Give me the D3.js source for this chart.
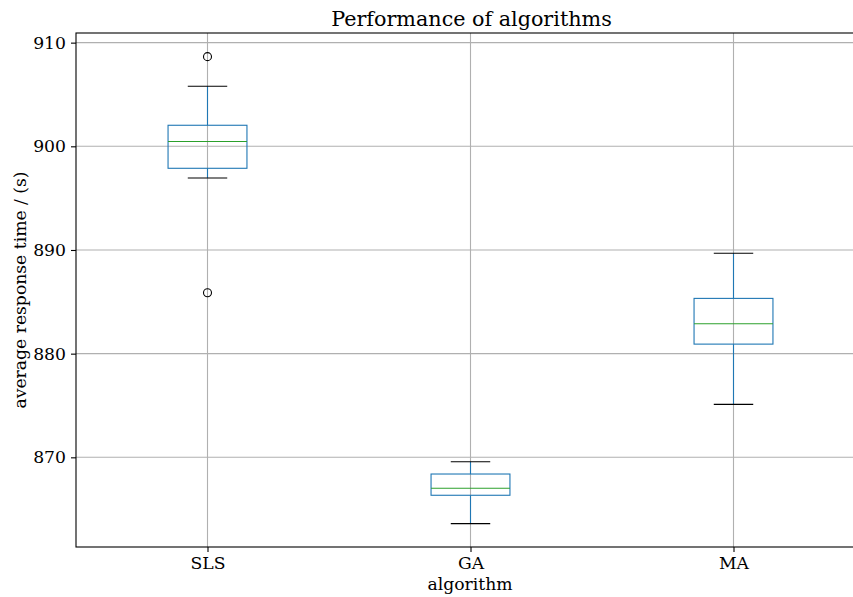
<!DOCTYPE html>
<html lang="en">
<head>
  <meta charset="UTF-8">
  <title>Performance of algorithms</title>
  <script src="https://d3js.org/d3.v7.min.js"></script>
  <style>
    html, body { margin: 0; padding: 0; background: #fff; }
    svg { display: block; font-family: "DejaVu Serif", serif; }
  </style>
</head>
<body>
  <svg width="853" height="597"></svg>
  <script>
    // categories and box statistics
    const algorithms = ["SLS", "GA", "MA"];
    const whiskerLow = [896.95, 863.6, 875.11];
    const q1 = [897.88, 866.34, 880.92];
    const medians = [900.46, 867.01, 882.88];
    const q3 = [902.03, 868.39, 885.33];
    const whiskerHigh = [905.79, 869.58, 889.69];
    const outliers = [[908.65, 885.87], [], []];
    const yTicks = [870, 880, 890, 900, 910];

    const margin = { top: 33, left: 76 };
    const plotW = 789, plotH = 514;

    const svg = d3.select("svg");
    const g = svg.append("g")
      .attr("transform", "translate(" + margin.left + "," + margin.top + ")");

    const x = d3.scaleLinear().domain([0.5, 3.5]).range([0, plotW]);
    const y = d3.scaleLinear().domain([861.35, 910.93]).range([plotH, 0]);

    // grid
    g.append("g").selectAll("line").data(yTicks).enter().append("line")
      .attr("x1", 0).attr("x2", plotW)
      .attr("y1", d => y(d)).attr("y2", d => y(d))
      .attr("stroke", "#b0b0b0").attr("stroke-width", 1.1);
    g.append("g").selectAll("line").data(algorithms).enter().append("line")
      .attr("x1", (d, i) => x(i + 1)).attr("x2", (d, i) => x(i + 1))
      .attr("y1", 0).attr("y2", plotH)
      .attr("stroke", "#b0b0b0").attr("stroke-width", 1.1);

    const boxW = x(1.3) - x(1);
    const capW = boxW / 2;

    const boxes = g.selectAll(".box").data(algorithms).enter().append("g");

    // whiskers
    boxes.append("line")
      .attr("x1", (d, i) => x(i + 1)).attr("x2", (d, i) => x(i + 1))
      .attr("y1", (d, i) => y(whiskerLow[i])).attr("y2", (d, i) => y(q1[i]))
      .attr("stroke", "#1f77b4").attr("stroke-width", 1.1);
    boxes.append("line")
      .attr("x1", (d, i) => x(i + 1)).attr("x2", (d, i) => x(i + 1))
      .attr("y1", (d, i) => y(q3[i])).attr("y2", (d, i) => y(whiskerHigh[i]))
      .attr("stroke", "#1f77b4").attr("stroke-width", 1.1);

    // caps
    [whiskerLow, whiskerHigh].forEach(arr => {
      boxes.append("line")
        .attr("x1", (d, i) => x(i + 1) - capW / 2).attr("x2", (d, i) => x(i + 1) + capW / 2)
        .attr("y1", (d, i) => y(arr[i])).attr("y2", (d, i) => y(arr[i]))
        .attr("stroke", "#000").attr("stroke-width", 1.1);
    });

    // box
    boxes.append("rect")
      .attr("x", (d, i) => x(i + 1) - boxW / 2)
      .attr("y", (d, i) => y(q3[i]))
      .attr("width", boxW)
      .attr("height", (d, i) => y(q1[i]) - y(q3[i]))
      .attr("fill", "none").attr("stroke", "#1f77b4").attr("stroke-width", 1.1);

    // median
    boxes.append("line")
      .attr("x1", (d, i) => x(i + 1) - boxW / 2).attr("x2", (d, i) => x(i + 1) + boxW / 2)
      .attr("y1", (d, i) => y(medians[i])).attr("y2", (d, i) => y(medians[i]))
      .attr("stroke", "#2ca02c").attr("stroke-width", 1.1);

    // fliers
    algorithms.forEach((a, i) => {
      g.selectAll(".flier" + i).data(outliers[i]).enter().append("circle")
        .attr("cx", x(i + 1)).attr("cy", d => y(d)).attr("r", 4)
        .attr("fill", "none").attr("stroke", "#000").attr("stroke-width", 1.1);
    });

    // axes
    const yAxis = g.append("g")
      .call(d3.axisLeft(y).tickValues(yTicks).tickSize(5).tickPadding(5).tickSizeOuter(0));
    yAxis.select(".domain").remove();
    yAxis.selectAll("text").attr("font-size", 17.2).attr("font-family", "DejaVu Serif").attr("fill", "#000");
    yAxis.selectAll("line").attr("stroke", "#000").attr("stroke-width", 1.1);

    const xAxis = g.append("g").attr("transform", "translate(0," + plotH + ")")
      .call(d3.axisBottom(x).tickValues([1, 2, 3]).tickFormat(d => algorithms[d - 1])
        .tickSize(5).tickPadding(5).tickSizeOuter(0));
    xAxis.select(".domain").remove();
    xAxis.selectAll("text").attr("font-size", 17.2).attr("font-family", "DejaVu Serif").attr("fill", "#000");
    xAxis.selectAll("line").attr("stroke", "#000").attr("stroke-width", 1.1);

    // spines
    g.append("rect")
      .attr("x", 0).attr("y", 0).attr("width", plotW).attr("height", plotH)
      .attr("fill", "none").attr("stroke", "#000").attr("stroke-width", 1.1);

    // labels
    svg.append("text")
      .attr("x", 471.5).attr("y", 26)
      .attr("text-anchor", "middle").attr("font-size", 20.7)
      .text("Performance of algorithms");
    svg.append("text")
      .attr("x", 470).attr("y", 590)
      .attr("text-anchor", "middle").attr("font-size", 17.2)
      .text("algorithm");
    svg.append("text")
      .attr("transform", "translate(26," + (margin.top + plotH / 2) + ") rotate(-90)")
      .attr("text-anchor", "middle").attr("font-size", 17.2)
      .text("average response time / (s)");
  </script>
</body>
</html>
